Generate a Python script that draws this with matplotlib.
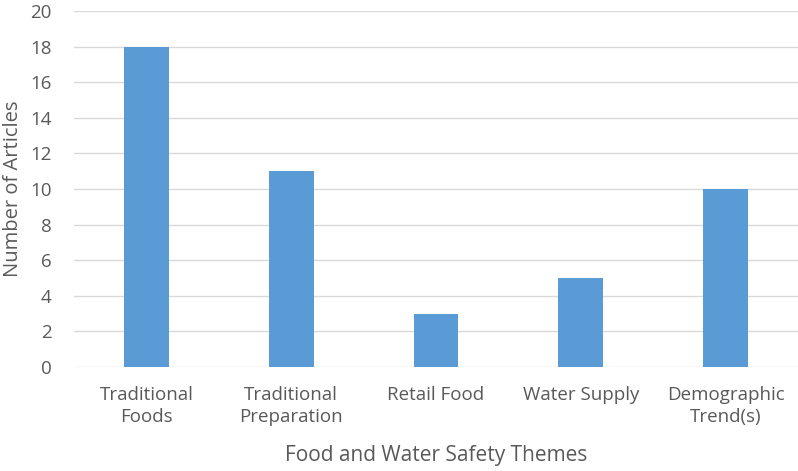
import matplotlib
matplotlib.use("Agg")
import matplotlib.pyplot as plt

categories = ["Traditional\nFoods", "Traditional\nPreparation", "Retail Food", "Water Supply", "Demographic\nTrend(s)"]
values = [18, 11, 3, 5, 10]
yticks = [0, 2, 4, 6, 8, 10, 12, 14, 16, 18, 20]

plt.rcParams['font.family'] = ['Open Sans', 'DejaVu Sans']
text_color = '#595959'

fig = plt.figure(figsize=(7.98, 4.71), dpi=100)
ax = fig.add_axes([74/798, 1 - 367/471, (798 - 74)/798, (367 - 11)/471])

x = list(range(len(categories)))
ax.bar(x, values, width=0.31, color='#5B9BD5', zorder=3)
ax.set_xlim(-0.5, len(categories) - 0.5)
ax.set_ylim(0, 20)
ax.set_yticks(yticks)
ax.set_xticks(x)
ax.set_xticklabels(categories, fontsize=13.5, color=text_color, linespacing=1.25)
ax.tick_params(axis='y', labelsize=13.5, labelcolor=text_color, length=0, pad=16)
ax.tick_params(axis='x', length=0, pad=14)
ax.grid(axis='y', color='#D9D9D9', linewidth=1.0, zorder=0)
for s in ax.spines.values():
    s.set_visible(False)
ax.set_ylabel("Number of Articles", fontsize=14.5, color=text_color)
ax.yaxis.set_label_coords(13/798, 1 - 189/471, transform=fig.transFigure)
ax.yaxis.label.set_verticalalignment('center')
ax.set_xlabel("Food and Water Safety Themes", fontsize=15, color=text_color, labelpad=14)

fig.savefig("out.png", dpi=100)
